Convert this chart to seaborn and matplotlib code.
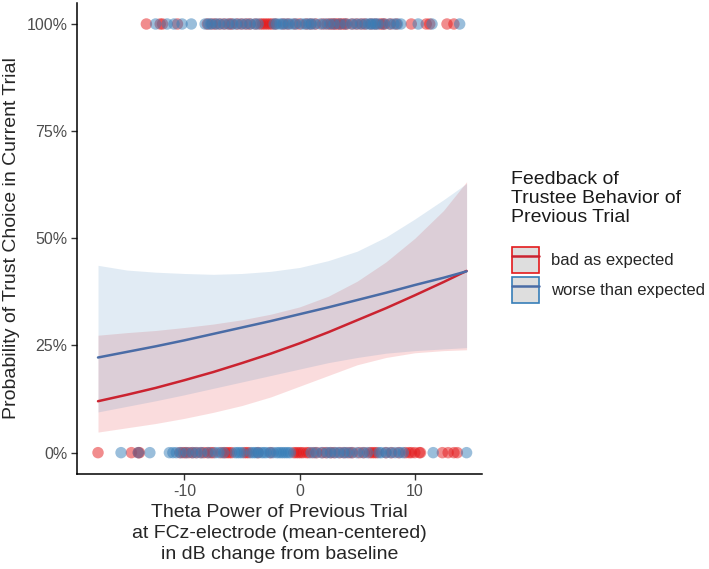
import matplotlib
matplotlib.use('Agg')
import matplotlib.pyplot as plt
from matplotlib.lines import Line2D
from matplotlib.patches import Patch
import seaborn as sns
import pandas as pd

groups = ['bad as expected', 'worse than expected']

# theta of trials with trust choice (100%) and without (0%)
top_red_x = [-13.3, -12.1, -11.9, -10.6,
             -8.0, -7.6, -7.3, -6.9, -6.5, -6.1, -5.9, -5.4, -5.0, -4.6, -4.3, -3.8, -3.4,
             -3.2, -3.0, -2.8, -2.6, -2.4, -2.1, -1.4, -1.0, -0.4, 0.0, 0.6, 1.0, 1.4, 2.0,
             2.4, 2.7, 2.9, 3.1, 3.3, 3.5, 3.7, 3.9, 4.1, 4.6, 5.0, 5.4, 5.7, 6.2, 6.6, 7.0,
             7.2, 7.4, 7.9, 8.4,
             9.7, 11.0, 11.3, 12.8, 13.4]
top_blue_x = [-12.5, -11.5, -10.9, -10.2, -9.4,
              -8.2, -7.9, -7.7, -7.3, -7.0, -6.6, -6.2, -5.8, -5.5, -5.1, -4.7, -4.3, -3.9,
              -3.6, -2.2, -2.0, -1.7, -1.5, -1.2, -0.9, -0.6, -0.3, 0.2, 0.5, 0.8, 1.0, 1.3,
              1.8, 2.2, 2.6, 3.0, 3.5, 4.0, 4.5, 4.9, 5.3, 5.7, 6.0, 6.2, 6.4, 6.6, 6.8, 7.3,
              7.8, 8.2, 8.5, 8.8,
              10.3, 11.5, 13.9]
bot_red_x = [-17.5, -14.6, -14.0, -13.9,
             -10.4, -10.1, -9.9, -9.6, -9.3, -9.0, -8.6, -8.3, -8.0, -7.7, -7.5, -6.8, -6.5,
             -6.3, -6.1, -5.9, -4.8, -4.6, -4.4, -3.6, -2.5, -0.5, -0.3, -0.1, 0.1, 0.3, 0.6,
             0.8, 1.2, 1.5, 2.0, 2.3, 2.7, 3.0, 3.5, 3.9, 4.3, 4.6, 5.2, 5.6, 6.1, 6.3, 6.5,
             6.7, 7.5, 8.0, 8.6, 9.2, 9.5, 9.7, 10.0,
             10.4, 10.5, 12.4, 12.9, 13.4, 13.7]
bot_blue_x = [-15.5, -14.0, -13.0,
              -11.3, -11.0, -10.7, -10.3, -9.8, -9.3, -8.9, -8.5, -7.9, -7.3, -7.0, -6.6,
              -5.6, -5.4, -5.2, -5.0, -4.2, -4.0, -3.8, -3.6, -3.3, -3.1, -2.9, -2.6, -2.3,
              -2.0, -1.8, -1.6, -1.4, -1.2, -1.0, -0.8, 1.0, 1.4, 1.9, 2.4, 2.7, 3.1, 3.4,
              3.8, 4.1, 4.5, 5.0, 5.5, 5.9, 6.9, 7.1, 7.5, 7.9, 8.3, 8.7, 9.0,
              11.6, 14.5]

# fitted probabilities and confidence band
curve_x = [-17.5, -15, -12.5, -10, -7.5, -5, -2.5, 0, 2.5, 5, 7.5, 10, 12.5, 14.5]
red_fit = [0.120, 0.135, 0.151, 0.169, 0.188, 0.209, 0.231, 0.255, 0.281, 0.309, 0.337,
           0.367, 0.398, 0.424]
red_lo = [0.048, 0.058, 0.068, 0.080, 0.094, 0.110, 0.130, 0.155, 0.180, 0.205, 0.222,
          0.233, 0.238, 0.240]
red_hi = [0.274, 0.280, 0.285, 0.292, 0.300, 0.310, 0.323, 0.340, 0.365, 0.400, 0.445,
          0.500, 0.565, 0.632]
blue_fit = [0.222, 0.235, 0.248, 0.262, 0.277, 0.292, 0.307, 0.323, 0.339, 0.356, 0.373,
            0.391, 0.408, 0.423]
blue_lo = [0.095, 0.108, 0.121, 0.135, 0.150, 0.165, 0.180, 0.195, 0.210, 0.222, 0.232,
           0.238, 0.242, 0.245]
blue_hi = [0.437, 0.426, 0.421, 0.418, 0.416, 0.418, 0.423, 0.432, 0.448, 0.470, 0.503,
           0.545, 0.590, 0.628]

sns.set_theme(style='ticks')
plt.rcParams['font.family'] = ['Liberation Sans', 'DejaVu Sans']
plt.rcParams['axes.unicode_minus'] = False

point_colors = {groups[0]: '#E41A1C', groups[1]: '#377EB8'}
line_colors = {groups[0]: '#CB2330', groups[1]: '#4A6CA6'}

pts = pd.concat([
    pd.DataFrame({'theta': top_red_x, 'trust': 1, 'group': groups[0]}),
    pd.DataFrame({'theta': top_blue_x, 'trust': 1, 'group': groups[1]}),
    pd.DataFrame({'theta': bot_red_x, 'trust': 0, 'group': groups[0]}),
    pd.DataFrame({'theta': bot_blue_x, 'trust': 0, 'group': groups[1]}),
])
fit = pd.concat([
    pd.DataFrame({'theta': curve_x, 'prob': red_fit, 'group': groups[0]}),
    pd.DataFrame({'theta': curve_x, 'prob': blue_fit, 'group': groups[1]}),
])

fig = plt.figure(figsize=(7.09, 5.69), dpi=100)
ax = fig.add_axes([0.109, 0.1668, 0.571, 0.8287])

ax.fill_between(curve_x, red_lo, red_hi, color=point_colors[groups[0]], alpha=0.15, linewidth=0)
ax.fill_between(curve_x, blue_lo, blue_hi, color=point_colors[groups[1]], alpha=0.15, linewidth=0)
sns.lineplot(data=fit, x='theta', y='prob', hue='group', palette=line_colors,
             linewidth=1.8, legend=False, ax=ax)
sns.scatterplot(data=pts, x='theta', y='trust', hue='group', palette=point_colors,
                alpha=0.5, s=68, linewidth=0, legend=False, ax=ax)

ax.set_xlim(-19.3, 15.85)
ax.set_ylim(-0.05, 1.05)
ax.set_xticks([-10, 0, 10])
ax.set_yticks([0, 0.25, 0.5, 0.75, 1])
ax.set_yticklabels(['0%', '25%', '50%', '75%', '100%'])
ax.tick_params(labelsize=11.5, labelcolor='#4d4d4d', length=4, width=1, color='#333333', pad=3)
ax.set_xlabel('Theta Power of Previous Trial\nat FCz-electrode (mean-centered)\nin dB change from baseline',
              fontsize=14, labelpad=4, linespacing=1.3)
ax.set_ylabel('Probability of Trust Choice in Current Trial', fontsize=14, labelpad=5)
for s in ['left', 'bottom']:
    ax.spines[s].set_linewidth(1.1)
    ax.spines[s].set_color('black')
sns.despine(ax=ax)

# legend: title as separate text, keys as grey boxes with coloured border + line
fig.text(0.7207, 1 - 171 / 569, 'Feedback of\nTrustee Behavior of\nPrevious Trial',
         fontsize=14, va='top', ha='left', linespacing=1.17, color='#1a1a1a')
handles = [(Patch(facecolor='#DEDEDE', edgecolor=point_colors[g], linewidth=1.2),
            Line2D([], [], color=line_colors[g], linewidth=1.8)) for g in groups]
fig.legend(handles, groups, loc='upper left', bbox_to_anchor=(0.7221, 1 - 247 / 569), frameon=False,
           fontsize=12, handlelength=1.65, handleheight=2.02, labelspacing=0.24,
           handletextpad=0.7, borderpad=0, borderaxespad=0)

plt.savefig('out.png', dpi=100)
